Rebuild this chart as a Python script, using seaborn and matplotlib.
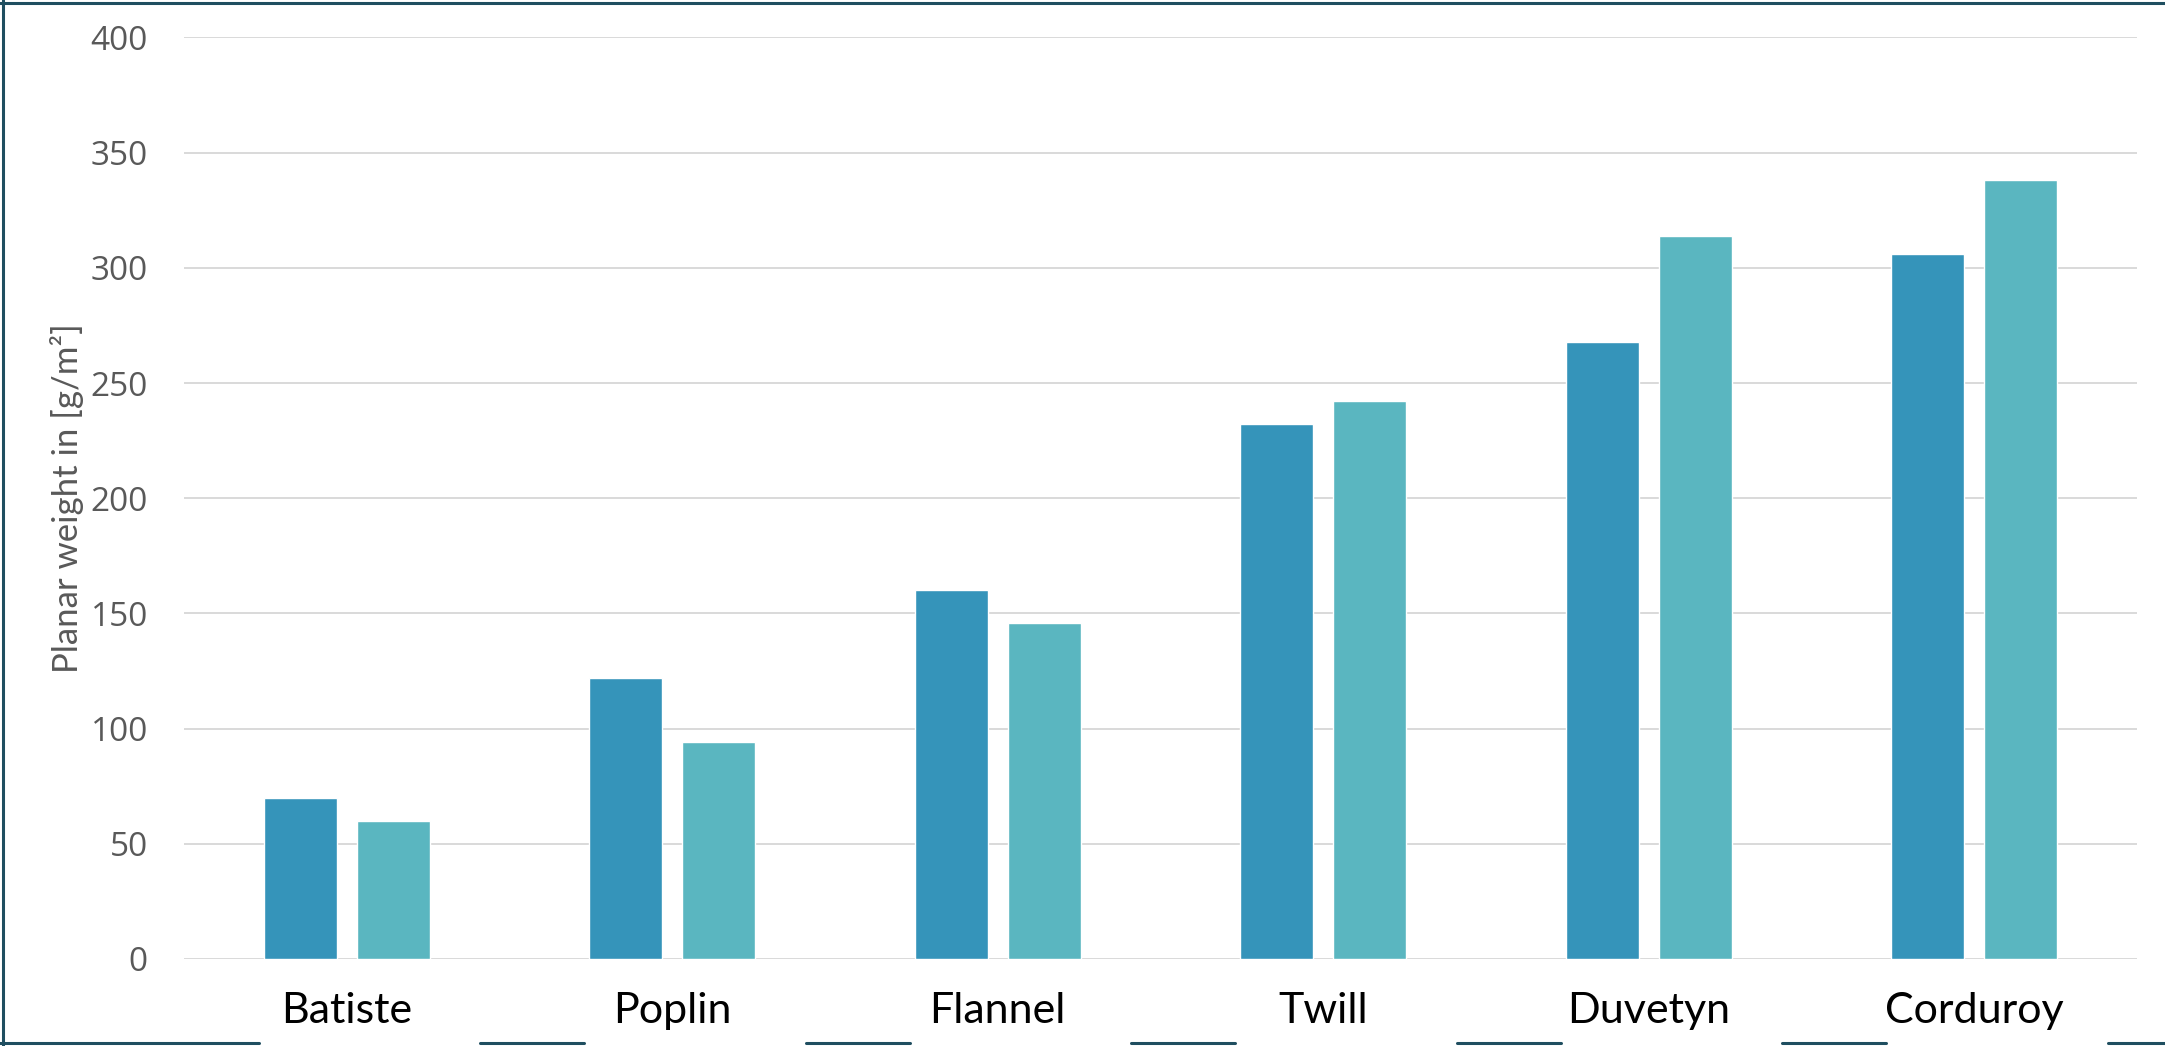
import pandas as pd
import matplotlib
matplotlib.use("Agg")
import matplotlib.pyplot as plt
import matplotlib.transforms as mtransforms
from matplotlib.lines import Line2D
import seaborn as sns

# values
fabrics = ["Batiste", "Poplin", "Flannel", "Twill", "Duvetyn", "Corduroy"]
series_1 = [70, 122, 160, 232, 268, 306]
series_2 = [60, 94, 146, 242, 314, 338]
y_ticks = [0, 50, 100, 150, 200, 250, 300, 350, 400]

DARK = "#3594BA"
LIGHT = "#5AB6C0"
BORDER = "#1F4E60"
GRID = "#D9D9D9"
GREY_TEXT = "#595959"

df = pd.DataFrame({
    "fabric": fabrics * 2,
    "weight": series_1 + series_2,
    "series": ["series 1"] * len(fabrics) + ["series 2"] * len(fabrics),
})

sns.set_style("white")
plt.rcParams["font.family"] = ["Lato", "DejaVu Sans"]

fig = plt.figure(figsize=(21.65, 10.46), dpi=100)
ax = fig.add_axes([0.085, 0.0832, 0.902, 0.881])

sns.barplot(data=df, x="fabric", y="weight", hue="series",
            palette=[DARK, LIGHT], saturation=1, width=0.571, gap=0.215,
            legend=False, ax=ax, zorder=3)

ax.set_ylim(0, 400)
ax.set_xlim(-0.5, len(fabrics) - 0.5)
ax.set_yticks(y_ticks)
ax.yaxis.grid(True, color=GRID, linewidth=1.4, zorder=0)
ax.xaxis.grid(False)
ax.set_axisbelow(True)
for s in ax.spines.values():
    s.set_visible(False)

ax.tick_params(axis="y", length=0, pad=26, labelsize=24, labelcolor=GREY_TEXT)
ax.tick_params(axis="x", length=0, pad=24, labelsize=31, labelcolor="black")
for lab in ax.get_yticklabels():
    lab.set_fontfamily(["Open Sans", "DejaVu Sans"])

ax.set_xlabel("")
ax.set_ylabel("Planar weight in [g/m²]", fontsize=25, color=GREY_TEXT, labelpad=5)

# outer border of the picture (left, top, and broken bottom)
lw = 2.2
fig.add_artist(Line2D([0.0015, 0.0015], [0, 1], color=BORDER, lw=lw))
fig.add_artist(Line2D([0, 1], [0.9975, 0.9975], color=BORDER, lw=lw))
trans = mtransforms.blended_transform_factory(ax.transData, fig.transFigure)
edges = [-1.5]
for i in range(len(fabrics)):
    edges += [i + 0.07 - 0.34, i + 0.07 + 0.34]
edges.append(len(fabrics) + 1)
for a, b in zip(edges[0::2], edges[1::2]):
    fig.add_artist(Line2D([a, b], [0.0025, 0.0025], color=BORDER, lw=lw,
                          transform=trans))

fig.savefig("out.png", dpi=100)
